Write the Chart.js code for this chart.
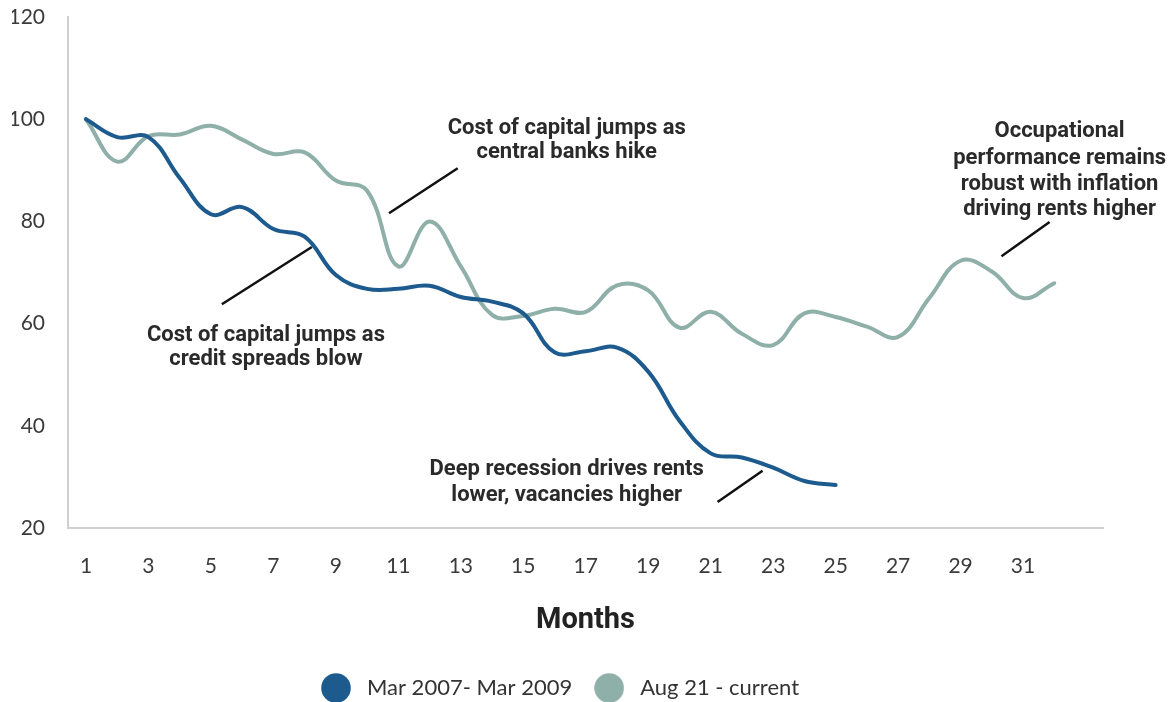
<!DOCTYPE html>
<html>
<head>
<meta charset="utf-8">
<script src="https://cdn.jsdelivr.net/npm/chart.js@4/dist/chart.umd.min.js"></script>
<style>
  html, body { margin: 0; padding: 0; background: #ffffff; }
  #wrap { width: 1169px; height: 702px; }
</style>
</head>
<body>
<div id="wrap"><canvas id="c" width="1169" height="702"></canvas></div>
<script>
// ---- Data ----
const months2007 = [1,2,3,4,5,6,7,8,9,10,11,12,13,14,15,16,17,18,19,20,21,22,23,24,25];
const series2007 = [100, 96.5, 96.5, 88.5, 81.4, 82.8, 78.5, 77, 69.5, 66.8, 66.8, 67.4, 65.2, 64.3, 62, 54.4, 54.6, 55.3, 50.6, 41, 34.6, 33.8, 31.8, 29.2, 28.4];

const months2021 = [1,2,3,4,5,6,7,8,9,10,11,12,13,14,15,16,17,18,19,20,21,22,23,24,25,26,27,28,29,30,31,32];
const series2021 = [100, 91.7, 96.7, 97, 98.7, 96, 93.2, 93.5, 88, 86, 71.2, 80, 71.2, 61.7, 61.5, 62.9, 62.3, 67.5, 66.5, 59.2, 62.3, 58, 55.8, 62, 61.3, 59.4, 57.4, 65, 72.3, 70.2, 65, 67.9];

const seriesNames = ['Mar 2007- Mar 2009', 'Aug 21 - current'];
const xTickLabels = [1,3,5,7,9,11,13,15,17,19,21,23,25,27,29,31];
const yTickLabels = [20,40,60,80,100,120];
const xTitle = 'Months';

// ---- Annotation texts (anchored in data space) ----
const annotations = [
  { lines: ['Cost of capital jumps as', 'central banks hike'], x: 16.39, y: [98.2, 93.4],
    leader: [[10.70, 81.6], [12.90, 90.4]] },
  { lines: ['Cost of capital jumps as', 'credit spreads blow'], x: 6.76, y: [57.6, 52.9],
    leader: [[5.35, 63.8], [8.23, 75.0]] },
  { lines: ['Deep recession drives rents', 'lower, vacancies higher'], x: 16.39, y: [31.4, 26.3],
    leader: [[21.22, 25.1], [22.66, 31.2]] },
  { lines: ['Occupational', 'performance remains', 'robust with inflation', 'driving rents higher'], x: 32.17, y: [97.6, 92.4, 87.3, 82.3],
    leader: [[30.31, 73.2], [31.85, 79.9]] }
];

const colors = ['#1d5a8e', '#8fafa9'];

function makeDot(color) {
  const c = document.createElement('canvas');
  c.width = 30; c.height = 30;
  const g = c.getContext('2d');
  g.fillStyle = color;
  g.beginPath();
  g.arc(15, 15, 14.8, 0, Math.PI * 2);
  g.fill();
  return c;
}
const dots = colors.map(makeDot);

const annotationPlugin = {
  id: 'notes',
  afterDraw(chart) {
    const ctx = chart.ctx, xs = chart.scales.x, ys = chart.scales.y;
    ctx.save();
    ctx.font = 'bold 22px Roboto';
    ctx.fillStyle = '#2a2a2a';
    ctx.textAlign = 'center';
    ctx.textBaseline = 'middle';
    annotations.forEach(a => {
      a.lines.forEach((t, i) => ctx.fillText(t, xs.getPixelForValue(a.x), ys.getPixelForValue(a.y[i])));
      ctx.beginPath();
      ctx.strokeStyle = '#111111';
      ctx.lineWidth = 2.5;
      ctx.moveTo(xs.getPixelForValue(a.leader[0][0]), ys.getPixelForValue(a.leader[0][1]));
      ctx.lineTo(xs.getPixelForValue(a.leader[1][0]), ys.getPixelForValue(a.leader[1][1]));
      ctx.stroke();
    });
    ctx.restore();
  }
};

const axisLine = { display: true, color: '#cdd1cd', width: 2 };

new Chart(document.getElementById('c'), {
  type: 'line',
  data: {
    datasets: [
      { label: seriesNames[0], data: months2007.map((m, i) => ({ x: m, y: series2007[i] })),
        borderColor: colors[0], backgroundColor: colors[0], borderWidth: 4, pointRadius: 0, tension: 0.4, borderCapStyle: 'round' },
      { label: seriesNames[1], data: months2021.map((m, i) => ({ x: m, y: series2021[i] })),
        borderColor: colors[1], backgroundColor: colors[1], borderWidth: 4, pointRadius: 0, tension: 0.4, borderCapStyle: 'round' }
    ]
  },
  options: {
    responsive: false,
    animation: false,
    devicePixelRatio: 1,
    layout: { autoPadding: false, padding: { left: 12, right: 66, top: 17, bottom: -7 } },
    scales: {
      x: {
        type: 'linear', min: 0.424, max: 33.56,
        afterBuildTicks: s => { s.ticks = xTickLabels.map(v => ({ value: v })); },
        afterFit: s => { s.height = 132; s.paddingLeft = 0; s.paddingRight = 0; },
        grid: { display: false, drawTicks: false },
        border: axisLine,
        ticks: { font: { family: 'Lato', size: 21 }, color: '#3a3a3a', padding: 25.4, maxRotation: 0, autoSkip: false },
        title: { display: true, text: xTitle, font: { family: 'Roboto', size: 29, weight: 'bold' }, color: '#222222', padding: { top: 10, bottom: 21.6 } }
      },
      y: {
        min: 20, max: 120,
        afterBuildTicks: s => { s.ticks = yTickLabels.map(v => ({ value: v })); },
        afterFit: s => { s.width = 56; s.paddingTop = 0; s.paddingBottom = 0; },
        grid: { display: false, drawTicks: false },
        border: axisLine,
        ticks: { font: { family: 'Lato', size: 21 }, color: '#3a3a3a', padding: 23 }
      }
    },
    plugins: {
      tooltip: { enabled: false },
      legend: {
        position: 'bottom',
        labels: {
          usePointStyle: true,
          pointStyleWidth: 40,
          padding: 17,
          font: { family: 'Lato', size: 22 },
          color: '#333333',
          generateLabels(chart) {
            const items = Chart.defaults.plugins.legend.labels.generateLabels(chart);
            items.forEach((it, i) => { it.pointStyle = dots[i]; });
            return items;
          }
        }
      }
    }
  },
  plugins: [annotationPlugin]
});
</script>
</body>
</html>
